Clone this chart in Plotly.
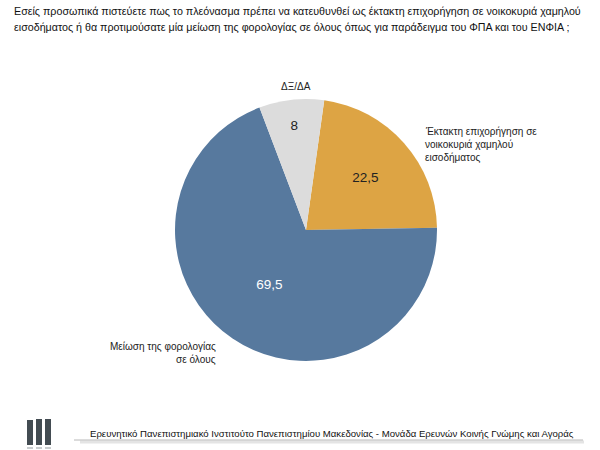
import plotly.graph_objects as go

labels = ["Έκτακτη επιχορήγηση σε νοικοκυριά χαμηλού εισοδήματος",
          "Μείωση της φορολογίας σε όλους",
          "ΔΞ/ΔΑ"]
values = [22.5, 69.5, 8]
colors = ["#DDA444", "#57799E", "#DCDCDC"]
text_colors = ["#222222", "#FFFFFF", "#222222"]
title_lines = ["Εσείς προσωπικά πιστεύετε πως το πλεόνασμα πρέπει να κατευθυνθεί ως έκτακτη επιχορήγηση σε νοικοκυριά χαμηλού",
               "εισοδήματος ή θα προτιμούσατε μία μείωση της φορολογίας σε όλους όπως για παράδειγμα του ΦΠΑ και του ΕΝΦΙΑ ;"]
right_label = ["Έκτακτη επιχορήγηση σε", "νοικοκυριά χαμηλού", "εισοδήματος"]
left_label = ["Μείωση της φορολογίας", "σε όλους"]
top_label = "ΔΞ/ΔΑ"
footer = "Ερευνητικό Πανεπιστημιακό Ινστιτούτο Πανεπιστημίου Μακεδονίας - Μονάδα Ερευνών Κοινής Γνώμης και Αγοράς"

W, H = 600, 450
cx, cy, r = 306, 230, 131
font = "Liberation Sans, Arial, sans-serif"

def px(x):
    return x / W

def py(y):
    return 1 - y / H

fig = go.Figure(go.Pie(
    labels=labels, values=values, sort=False, direction="clockwise", rotation=8,
    marker=dict(colors=colors, line=dict(width=0)),
    text=[str(v).replace(".", ",") for v in values],
    textinfo="text", textposition="inside", insidetextorientation="horizontal",
    textfont=dict(family=font, size=13.5, color=text_colors),
    hoverinfo="label+value", showlegend=False,
    domain=dict(x=[px(cx - r), px(cx + r)], y=[py(cy + r), py(cy - r)]),
))

ann = []
for i, line in enumerate(title_lines):
    ann.append(dict(x=px(12), y=py(11 + 16 * i), xanchor="left", yanchor="middle",
                    text=line, showarrow=False,
                    font=dict(family=font, size=10.7, color="#111111")))
ann.append(dict(x=px(296), y=py(86), yanchor="middle", text=top_label, showarrow=False,
                font=dict(family=font, size=10, color="#222222")))
for i, line in enumerate(right_label):
    ann.append(dict(x=px(423), y=py(131 + 13 * i), xanchor="left", yanchor="middle",
                    text=line, showarrow=False,
                    font=dict(family=font, size=10, color="#222222")))
for i, line in enumerate(left_label):
    ann.append(dict(x=px(218), y=py(346 + 13 * i), xanchor="right", yanchor="middle",
                    text=line, showarrow=False,
                    font=dict(family=font, size=10, color="#222222")))
ann.append(dict(x=px(332), y=py(433), yanchor="middle", text=footer, showarrow=False,
                font=dict(family=font, size=9.6, color="#111111")))

shapes = []
# footer line with soft shadow
shapes.append(dict(type="line", xref="paper", yref="paper", x0=px(80), x1=px(584),
                   y0=py(442), y1=py(442), line=dict(color="#E4E4E4", width=3)))
shapes.append(dict(type="line", xref="paper", yref="paper", x0=px(74), x1=px(583),
                   y0=py(440), y1=py(440), line=dict(color="#B8B8B8", width=1)))
# logo bars
for x0, top in ((27, 420), (36, 419), (45, 419)):
    shapes.append(dict(type="rect", xref="paper", yref="paper", x0=px(x0), x1=px(x0 + 6),
                       y0=py(445), y1=py(top), fillcolor="#434C52", line=dict(width=0)))
    shapes.append(dict(type="rect", xref="paper", yref="paper", x0=px(x0), x1=px(x0 + 6),
                       y0=py(449), y1=py(447), fillcolor="#C8CCCE", line=dict(width=0)))

fig.update_layout(width=W, height=H, margin=dict(l=0, r=0, t=0, b=0),
                  paper_bgcolor="white", plot_bgcolor="white",
                  annotations=ann, shapes=shapes)
fig.write_html("out.html")
